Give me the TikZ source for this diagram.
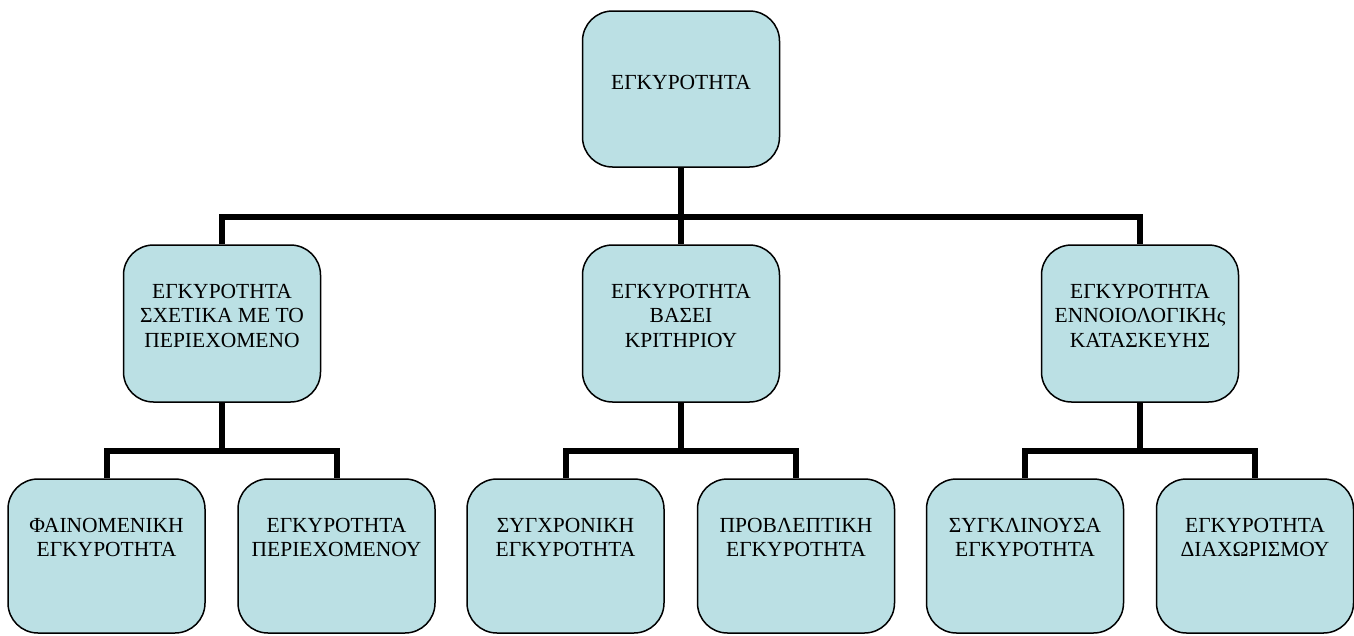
\documentclass[tikz,border=0pt]{standalone}
\usepackage{fontspec}
\setmainfont{Liberation Serif}
\definecolor{boxfill}{RGB}{187,224,228}
\begin{document}
\begin{tikzpicture}[x=1pt,y=-1pt,
  box/.style={draw=black, line width=1.5pt, fill=boxfill, rounded corners=30pt,
    minimum width=197pt, minimum height=155pt, inner sep=0pt},
  lbl/.style={anchor=north, align=center, inner sep=0pt,
    font=\fontsize{21.5}{24.3}\selectfont},
  conn/.style={line width=6pt, line join=miter, line cap=butt}]
\useasboundingbox (0,0) rectangle (1354,635);

% junction points of the tree lines
\coordinate (barA) at (681,217);
\coordinate (barB) at (222,451);
\coordinate (barC) at (681,451);
\coordinate (barD) at (1140,451);

% boxes
\node[box, minimum height=156pt] (root) at (681,89) {};
\node[box, minimum height=157pt] (m1) at (222,323.5) {};
\node[box, minimum height=157pt] (m2) at (681,323.5) {};
\node[box, minimum height=157pt] (m3) at (1140,323.5) {};
\node[box, minimum height=154pt] (b1) at (106.5,556) {};
\node[box, minimum height=154pt] (b2) at (336.5,556) {};
\node[box, minimum height=154pt] (b3) at (565.5,556) {};
\node[box, minimum height=154pt] (b4) at (796,556) {};
\node[box, minimum height=154pt] (b5) at (1025,556) {};
\node[box, minimum height=154pt] (b6) at (1255,556) {};

% tree lines
\draw[conn] (root.south) -- (barA);
\draw[conn] (m1.north) |- (barA) -| (m3.north);
\draw[conn] (barA) -- (m2.north);

\draw[conn] (m1.south) -- (barB);
\draw[conn] (b1.north) |- (barB) -| (b2.north);
\draw[conn] (m2.south) -- (barC);
\draw[conn] (b3.north) |- (barC) -| (b4.north);
\draw[conn] (m3.south) -- (barD);
\draw[conn] (b5.north) |- (barD) -| (b6.north);

% texts
\node[lbl] (troot) at (681,75) {ΕΓΚΥΡΟΤΗΤΑ};
\node[lbl] (tm1) at (222,284) {ΕΓΚΥΡΟΤΗΤΑ\\ΣΧΕΤΙΚΑ ΜΕ ΤΟ\\ΠΕΡΙΕΧΟΜΕΝΟ};
\node[lbl] (tm2) at (681,284) {ΕΓΚΥΡΟΤΗΤΑ\\ΒΑΣΕΙ\\ΚΡΙΤΗΡΙΟΥ};
\node[lbl] (tm3) at (1140,284) {ΕΓΚΥΡΟΤΗΤΑ\\ΕΝΝΟΙΟΛΟΓΙΚΗς\\ΚΑΤΑΣΚΕΥΗΣ};
\node[lbl] (tb1) at (106.5,518) {ΦΑΙΝΟΜΕΝΙΚΗ\\ΕΓΚΥΡΟΤΗΤΑ};
\node[lbl] (tb2) at (336.5,518) {ΕΓΚΥΡΟΤΗΤΑ\\ΠΕΡΙΕΧΟΜΕΝΟΥ};
\node[lbl] (tb3) at (565.5,518) {ΣΥΓΧΡΟΝΙΚΗ\\ΕΓΚΥΡΟΤΗΤΑ};
\node[lbl] (tb4) at (796,518) {ΠΡΟΒΛΕΠΤΙΚΗ\\ΕΓΚΥΡΟΤΗΤΑ};
\node[lbl] (tb5) at (1025,518) {ΣΥΓΚΛΙΝΟΥΣΑ\\ΕΓΚΥΡΟΤΗΤΑ};
\node[lbl] (tb6) at (1255,518) {ΕΓΚΥΡΟΤΗΤΑ\\ΔΙΑΧΩΡΙΣΜΟΥ};
\end{tikzpicture}
\end{document}
